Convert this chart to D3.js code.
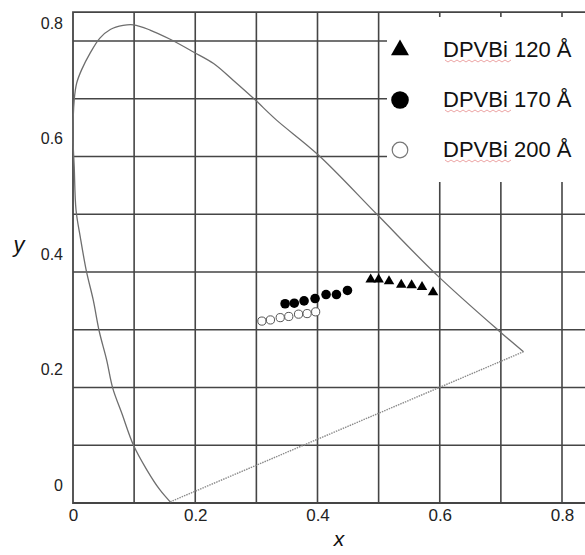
<!DOCTYPE html>
<html lang="en">
<head>
    <meta charset="UTF-8">
    <title>CIE chromaticity - DPVBi</title>
    <style>
        body { margin: 0; background: #fff; }
        svg { display: block; font-family: "Liberation Sans", Arial, sans-serif; }
    </style>
    <script src="https://d3js.org/d3.v7.min.js"></script>
</head>
<body>

<div id="chart"></div>

<script>
    // tick labels
    var xTicks = [0, 0.2, 0.4, 0.6, 0.8];
    var yTicks = [0, 0.2, 0.4, 0.6, 0.8];
    var gridValues = [0.1, 0.2, 0.3, 0.4, 0.5, 0.6, 0.7, 0.8];

    // spectral locus (x, y), from the violet end round to the red corner
    var locus = [
        [0.159, 0.002], [0.142, 0.023], [0.121, 0.057], [0.099, 0.100], [0.080, 0.155],
        [0.065, 0.199], [0.055, 0.248], [0.043, 0.297], [0.033, 0.352], [0.022, 0.401],
        [0.012, 0.460], [0.005, 0.507], [0.002, 0.582], [0.000, 0.634], [0.002, 0.698],
        [0.006, 0.727], [0.014, 0.750], [0.028, 0.779], [0.044, 0.805], [0.061, 0.820],
        [0.082, 0.827], [0.099, 0.828], [0.126, 0.819], [0.159, 0.803], [0.197, 0.781],
        [0.230, 0.761], [0.262, 0.732], [0.297, 0.699], [0.333, 0.663], [0.401, 0.603],
        [0.498, 0.499], [0.595, 0.395], [0.697, 0.298], [0.737, 0.262]
    ];

    // measured colour coordinates
    var dpvbi120x = [0.487, 0.500, 0.517, 0.537, 0.554, 0.571, 0.589];
    var dpvbi120y = [0.387, 0.387, 0.384, 0.378, 0.377, 0.374, 0.365];
    var dpvbi170x = [0.347, 0.362, 0.378, 0.396, 0.414, 0.431, 0.449];
    var dpvbi170y = [0.345, 0.346, 0.350, 0.354, 0.361, 0.361, 0.368];
    var dpvbi200x = [0.309, 0.323, 0.339, 0.353, 0.369, 0.383, 0.397];
    var dpvbi200y = [0.315, 0.317, 0.321, 0.323, 0.327, 0.328, 0.331];

    var legendLabels = ["DPVBi 120 \u00C5", "DPVBi 170 \u00C5", "DPVBi 200 \u00C5"];

    var width = 585;
    var height = 555;

    var x = d3.scaleLinear().domain([0, 0.8]).range([73, 562]);
    var y = d3.scaleLinear().domain([0, 0.8]).range([503, 41]);
    var xMax = x.invert(width);
    var yMax = 0.85;

    var svg = d3.select("#chart").append("svg")
        .attr("width", width)
        .attr("height", height);

    var gridColor = "#454545";

    // grid
    svg.append("g").selectAll("line")
        .data(gridValues)
        .enter()
        .append("line")
        .attr("x1", d => x(d)).attr("x2", d => x(d))
        .attr("y1", y(0)).attr("y2", y(yMax))
        .attr("stroke", gridColor).attr("stroke-width", 1.6);

    svg.append("g").selectAll("line")
        .data(gridValues)
        .enter()
        .append("line")
        .attr("x1", x(0)).attr("x2", x(xMax))
        .attr("y1", d => y(d)).attr("y2", d => y(d))
        .attr("stroke", gridColor).attr("stroke-width", 1.6);

    // frame: left, top, bottom
    svg.append("path")
        .attr("d", "M" + x(xMax) + "," + y(yMax) + "H" + x(0) + "V" + y(0) + "H" + x(xMax))
        .attr("fill", "none")
        .attr("stroke", gridColor)
        .attr("stroke-width", 1.8);

    // axes (labels only)
    var xAxis = svg.append("g")
        .attr("transform", "translate(0," + y(0) + ")")
        .call(d3.axisBottom(x).tickValues(xTicks).tickSize(0).tickPadding(6).tickFormat(d3.format("~g")));
    xAxis.select(".domain").remove();
    xAxis.selectAll("text").attr("font-size", 17).attr("fill", "#222").attr("font-family", "Liberation Sans, Arial, sans-serif");

    var yAxis = svg.append("g")
        .attr("transform", "translate(" + x(0) + ",0)")
        .call(d3.axisLeft(y).tickValues(yTicks).tickSize(0).tickPadding(10).tickFormat(d3.format("~g")));
    yAxis.select(".domain").remove();
    yAxis.selectAll("text").attr("y", -18).attr("font-size", 16).attr("fill", "#222").attr("font-family", "Liberation Sans, Arial, sans-serif");

    // axis titles
    svg.append("text")
        .attr("x", 339).attr("y", 546)
        .attr("text-anchor", "middle")
        .attr("font-size", 21).attr("font-style", "italic").attr("fill", "#111")
        .text("x");
    svg.append("text")
        .attr("x", 19).attr("y", 252)
        .attr("text-anchor", "middle")
        .attr("font-size", 22).attr("font-style", "italic").attr("fill", "#111")
        .text("y");

    // spectral locus
    var line = d3.line()
        .x(d => x(d[0]))
        .y(d => y(d[1]))
        .curve(d3.curveCatmullRom.alpha(0.5));

    svg.append("path")
        .datum(locus)
        .attr("d", line)
        .attr("fill", "none")
        .attr("stroke", "#6e6e6e")
        .attr("stroke-width", 1.3);

    // purple line (dotted)
    svg.append("path")
        .datum([locus[0], locus[locus.length - 1]])
        .attr("d", d3.line().x(d => x(d[0])).y(d => y(d[1])))
        .attr("fill", "none")
        .attr("stroke", "#8a8a8a")
        .attr("stroke-width", 1.4)
        .attr("stroke-dasharray", "1.5,1");

    // data points
    var tri = d3.symbol().type(d3.symbolTriangle).size(48);

    svg.append("g").selectAll("path")
        .data(d3.range(dpvbi120x.length))
        .enter()
        .append("path")
        .attr("d", tri)
        .attr("transform", i => "translate(" + x(dpvbi120x[i]) + "," + y(dpvbi120y[i]) + ")")
        .attr("fill", "#000");

    svg.append("g").selectAll("circle")
        .data(d3.range(dpvbi200x.length))
        .enter()
        .append("circle")
        .attr("cx", i => x(dpvbi200x[i]))
        .attr("cy", i => y(dpvbi200y[i]))
        .attr("r", 4.1)
        .attr("fill", "#fff")
        .attr("stroke", "#555")
        .attr("stroke-width", 1);

    svg.append("g").selectAll("circle")
        .data(d3.range(dpvbi170x.length))
        .enter()
        .append("circle")
        .attr("cx", i => x(dpvbi170x[i]))
        .attr("cy", i => y(dpvbi170y[i]))
        .attr("r", 4.8)
        .attr("fill", "#000");

    // legend
    var legend = svg.append("g");
    legend.append("rect")
        .attr("x", 387).attr("y", 17)
        .attr("width", width - 387).attr("height", 165)
        .attr("fill", "#fff");

    var rows = legend.selectAll("g.row")
        .data(legendLabels)
        .enter()
        .append("g")
        .attr("class", "row")
        .attr("transform", (d, i) => "translate(400," + (50 + i * 50) + ")");

    rows.filter((d, i) => i === 0).append("path")
        .attr("d", d3.symbol().type(d3.symbolTriangle).size(140))
        .attr("fill", "#000");
    rows.filter((d, i) => i === 1).append("circle")
        .attr("r", 8.8).attr("fill", "#000");
    rows.filter((d, i) => i === 2).append("circle")
        .attr("r", 7.8).attr("fill", "#fff")
        .attr("stroke", "#777").attr("stroke-width", 1.2);

    rows.append("text")
        .attr("x", 43).attr("y", 7)
        .attr("font-size", 22)
        .attr("fill", "#111")
        .text(d => d);

    // spell-check squiggle under "DPVBi"
    var squiggle = "M445,0";
    for (var k = 1; k <= 22; k++) {
        squiggle += "L" + (445 + k * 3) + "," + (k % 2 ? 2 : 0);
    }
    rows.append("path")
        .attr("transform", "translate(-400,10)")
        .attr("d", squiggle)
        .attr("fill", "none")
        .attr("stroke", "#e07070")
        .attr("stroke-width", 0.8)
        .attr("opacity", 0.8);
</script>

</body>
</html>
